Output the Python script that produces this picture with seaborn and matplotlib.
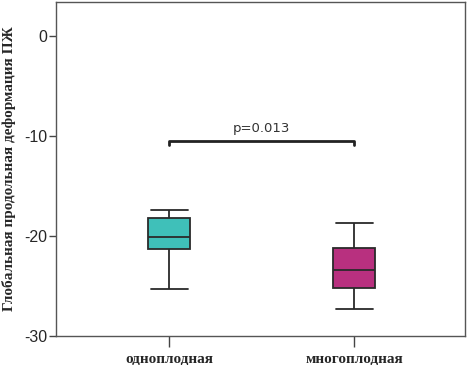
import matplotlib
matplotlib.use("Agg")
import matplotlib.pyplot as plt
import pandas as pd
import seaborn as sns

# five-number summaries (min, Q1, median, Q3, max)
groups = ["одноплодная", "многоплодная"]
single_vals = [-25.3, -21.25, -20.1, -18.2, -17.4]
multi_vals = [-27.3, -25.2, -23.4, -21.2, -18.65]
box_colors = ["#3fc0b9", "#b8307f"]
y_ticks = [0, -10, -20, -30]
p_label = "p=0.013"
bracket_y = -10.5

df = pd.DataFrame({
    "group": [groups[0]] * len(single_vals) + [groups[1]] * len(multi_vals),
    "value": single_vals + multi_vals,
})

sns.set_style("white")
fig = plt.figure(figsize=(4.69, 3.65), dpi=100)
ax = fig.add_axes([56 / 469, 29 / 365, 409 / 469, 334 / 365])

sns.boxplot(data=df, x="group", y="value", hue="group", palette=box_colors,
            order=groups, hue_order=groups, width=0.23, whis=(0, 100),
            saturation=1, linewidth=1.3, linecolor="#2a2a2a", legend=False, ax=ax,
            capprops={"linewidth": 1.3}, flierprops={"marker": ""})

# caps in seaborn 0.13 are drawn short by default; widen them a bit
for line in ax.lines:
    xd = line.get_xdata()
    if len(xd) == 2 and xd[0] != xd[1] and abs(xd[1] - xd[0]) < 0.2:
        c = (xd[0] + xd[1]) / 2
        line.set_xdata([c - 0.1, c + 0.1])

ax.set_xlim(-0.611, 1.6)
ax.set_ylim(-30, 3.4)
ax.set_yticks(y_ticks)
ax.set_yticklabels([str(t) for t in y_ticks], fontsize=11.5, family="Liberation Sans")
ax.set_xticks([0, 1])
ax.set_xticklabels(groups, fontsize=11, family="Liberation Serif", fontweight="bold")
ax.tick_params(axis="y", direction="out", length=5, width=1, color="#444444", left=True, pad=1)
ax.tick_params(axis="x", direction="out", length=8, width=1, color="#444444", bottom=True, pad=4)
ax.set_xlabel("")
ax.set_ylabel("Глобальная продольная деформация ПЖ", fontsize=11,
              family="Liberation Serif", fontweight="bold", labelpad=6)
for s in ax.spines.values():
    s.set_color("#555555")
    s.set_linewidth(1)

# significance bracket
ax.plot([0, 0, 1, 1], [bracket_y - 0.4, bracket_y, bracket_y, bracket_y - 0.4],
        color="#222222", lw=2)
ax.text(0.5, bracket_y + 0.6, p_label, ha="center", va="bottom", fontsize=9.5,
        color="#333333", family="DejaVu Sans")

fig.savefig("out.png", dpi=100)
